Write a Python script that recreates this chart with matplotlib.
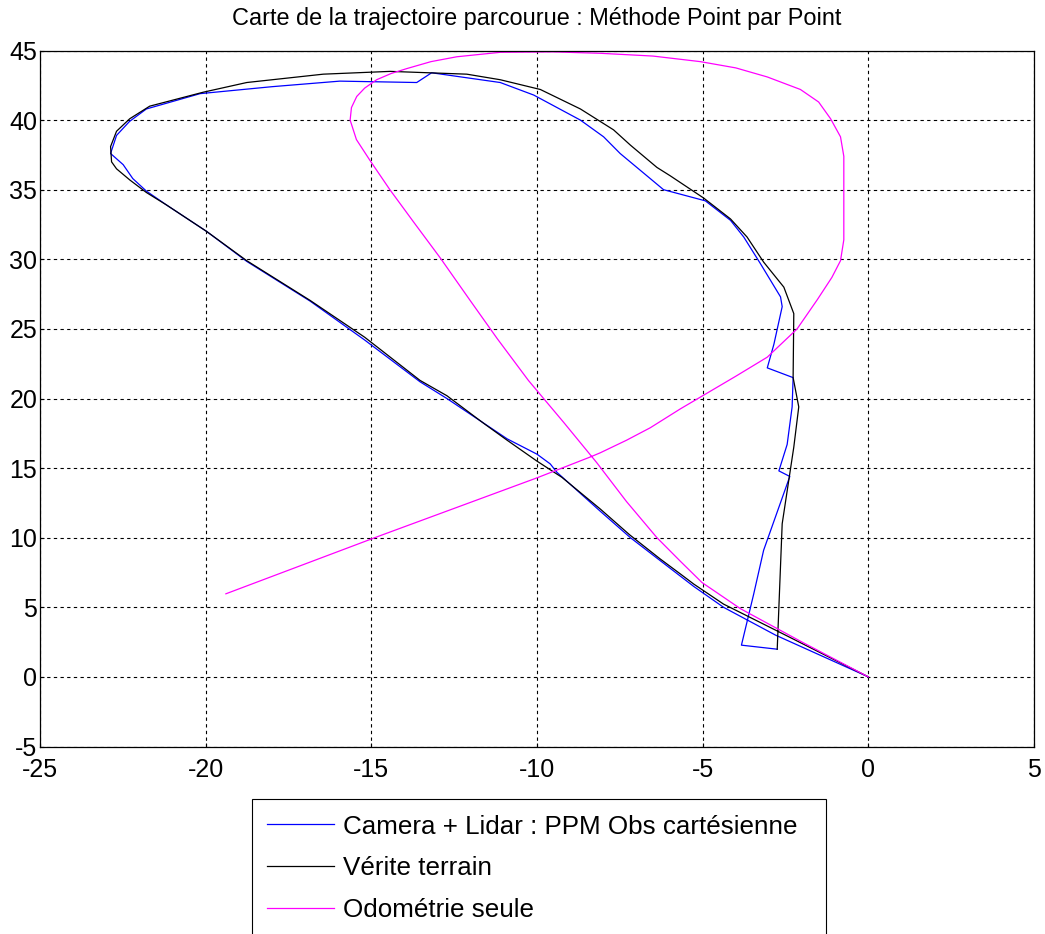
import matplotlib
matplotlib.use("Agg")
import matplotlib.pyplot as plt
from matplotlib.patches import Rectangle

plt.rcParams["font.family"] = ["Liberation Sans", "DejaVu Sans"]
plt.rcParams["axes.unicode_minus"] = False

# Camera + Lidar : PPM Obs cartesienne
cam_x = [0, -2.8, -4.37, -5.27, -6.28, -7.18, -8.09, -9.4, -9.6, -10.0, -10.9,
         -12.72, -13.53, -15.2, -16.85, -18.76, -19.97, -21.18, -21.79, -22.2,
         -22.49, -22.87, -22.69, -22.3, -21.79, -20.17, -18.0, -15.95, -13.63,
         -13.18, -11.11, -10.1, -8.69, -7.99, -7.49, -6.18, -4.92, -4.16, -3.76,
         -3.26, -2.65, -2.6, -2.85, -3.05, -2.27, -2.3, -2.45, -2.7, -2.37,
         -3.16, -3.46, -3.83, -2.75]
cam_y = [0, 3.0, 5.0, 6.5, 8.35, 10.0, 11.9, 14.7, 15.3, 16.0, 17.1,
         20.0, 21.2, 24.2, 27.0, 29.85, 32.0, 33.9, 34.9, 35.8,
         36.8, 37.6, 38.9, 39.9, 40.8, 41.9, 42.4, 42.8, 42.7,
         43.4, 42.7, 41.8, 40.0, 38.8, 37.6, 35.0, 34.2, 32.8, 31.6,
         29.7, 27.3, 26.6, 23.9, 22.2, 21.5, 19.4, 16.7, 14.8, 14.4,
         9.1, 5.95, 2.28, 1.99]

# Verite terrain
gt_x = [0, -2.75, -4.37, -5.27, -5.67, -6.28, -7.2, -8.09, -9.25, -10.0, -10.9,
        -11.6, -12.72, -13.53, -15.2, -16.85, -18.76, -19.97, -21.18, -21.79,
        -22.29, -22.69, -22.84, -22.87, -22.69, -22.29, -21.69, -20.08, -18.76,
        -16.45, -14.43, -12.12, -11.11, -9.9, -8.69, -7.69, -7.18, -6.38, -5.98,
        -4.97, -4.16, -3.66, -3.16, -2.55, -2.25, -2.27, -2.1, -2.25, -2.6, -2.75]
gt_y = [0, 3.3, 5.23, 6.67, 7.39, 8.47, 10.2, 12.06, 14.34, 15.5, 17.0,
        18.2, 20.2, 21.3, 24.4, 27.05, 29.9, 32.0, 33.9, 34.8,
        35.7, 36.5, 37.0, 38.1, 39.2, 40.1, 41.0, 42.0, 42.7,
        43.3, 43.5, 43.3, 42.9, 42.2, 40.8, 39.3, 38.2, 36.6, 36.0,
        34.4, 32.9, 31.6, 29.8, 28.0, 26.1, 21.5, 19.4, 16.5, 11.0, 1.99]

# Odometrie seule
odo_x = [0, -2.0, -3.86, -5.02, -5.67, -6.38, -7.3, -8.2, -9.2, -10.26, -11.2,
         -12.02, -12.92, -13.7, -14.44, -15.04, -15.45, -15.64, -15.6, -15.44,
         -15.2, -14.84, -14.4, -13.93, -13.2, -12.42, -11.11, -9.5, -8.09, -6.5,
         -5.07, -4.0, -3.05, -2.05, -1.5, -1.14, -0.84, -0.74, -0.74, -0.84,
         -1.1, -1.54, -2.15, -3.05, -4.0, -5.07, -5.67, -6.58, -7.3, -8.09,
         -8.39, -10.0, -14.74, -19.39]
odo_y = [0, 2.5, 4.9, 6.78, 8.3, 10.0, 12.6, 15.4, 18.3, 21.3, 24.3,
         27.05, 30.1, 32.6, 35.0, 37.1, 38.6, 40.0, 40.9, 41.7,
         42.3, 42.9, 43.35, 43.7, 44.2, 44.55, 44.87, 44.9, 44.8, 44.6,
         44.2, 43.75, 43.1, 42.2, 41.3, 40.1, 38.8, 37.4, 31.4, 29.9,
         28.7, 27.1, 25.0, 22.97, 21.6, 20.1, 19.26, 17.9, 17.0, 16.1,
         15.8, 14.3, 10.14, 5.97]

labels = ["Camera + Lidar : PPM Obs cartésienne", "Vérite terrain", "Odométrie seule"]

fig = plt.figure(figsize=(10.45, 9.34), dpi=100)
ax = fig.add_axes([40 / 1045, 1 - 746.5 / 934, 994 / 1045, 696 / 934])

ax.plot(cam_x, cam_y, color="#0000ff", lw=0.9, label=labels[0])
ax.plot(gt_x, gt_y, color="black", lw=0.9, label=labels[1])
ax.plot(odo_x, odo_y, color="#ff00ff", lw=0.9, label=labels[2])

ax.set_xlim(-25, 5)
ax.set_ylim(-5, 45)
ax.set_xticks(range(-25, 6, 5))
ax.set_yticks(range(-5, 46, 5))
ax.grid(True, color="black", linestyle=(0, (3, 3)), lw=0.8)
ax.tick_params(direction="in", length=3, labelsize=18)
ax.tick_params(axis="x", pad=8)
ax.tick_params(axis="y", pad=2)
for s in ax.spines.values():
    s.set_linewidth(0.9)

fig.text(537 / 1045, 1 - 18 / 934, "Carte de la trajectoire parcourue : Méthode Point par Point",
         ha="center", va="center", fontsize=16.9)

leg = ax.legend(loc="upper left", bbox_to_anchor=(251 / 1045, 1 - 799 / 934),
                bbox_transform=fig.transFigure, borderaxespad=0, fontsize=18.7,
                frameon=False, handlelength=2.6, handletextpad=0.35,
                labelspacing=0.68, borderpad=0.6)

# legend frame runs past the bottom edge of the picture
fig.patches.append(Rectangle((252 / 1045, -0.05), (826 - 252) / 1045, 0.05 + 1 - 799 / 934,
                             transform=fig.transFigure, fill=False,
                             edgecolor="black", lw=0.8))

fig.savefig("out.png", dpi=100)
